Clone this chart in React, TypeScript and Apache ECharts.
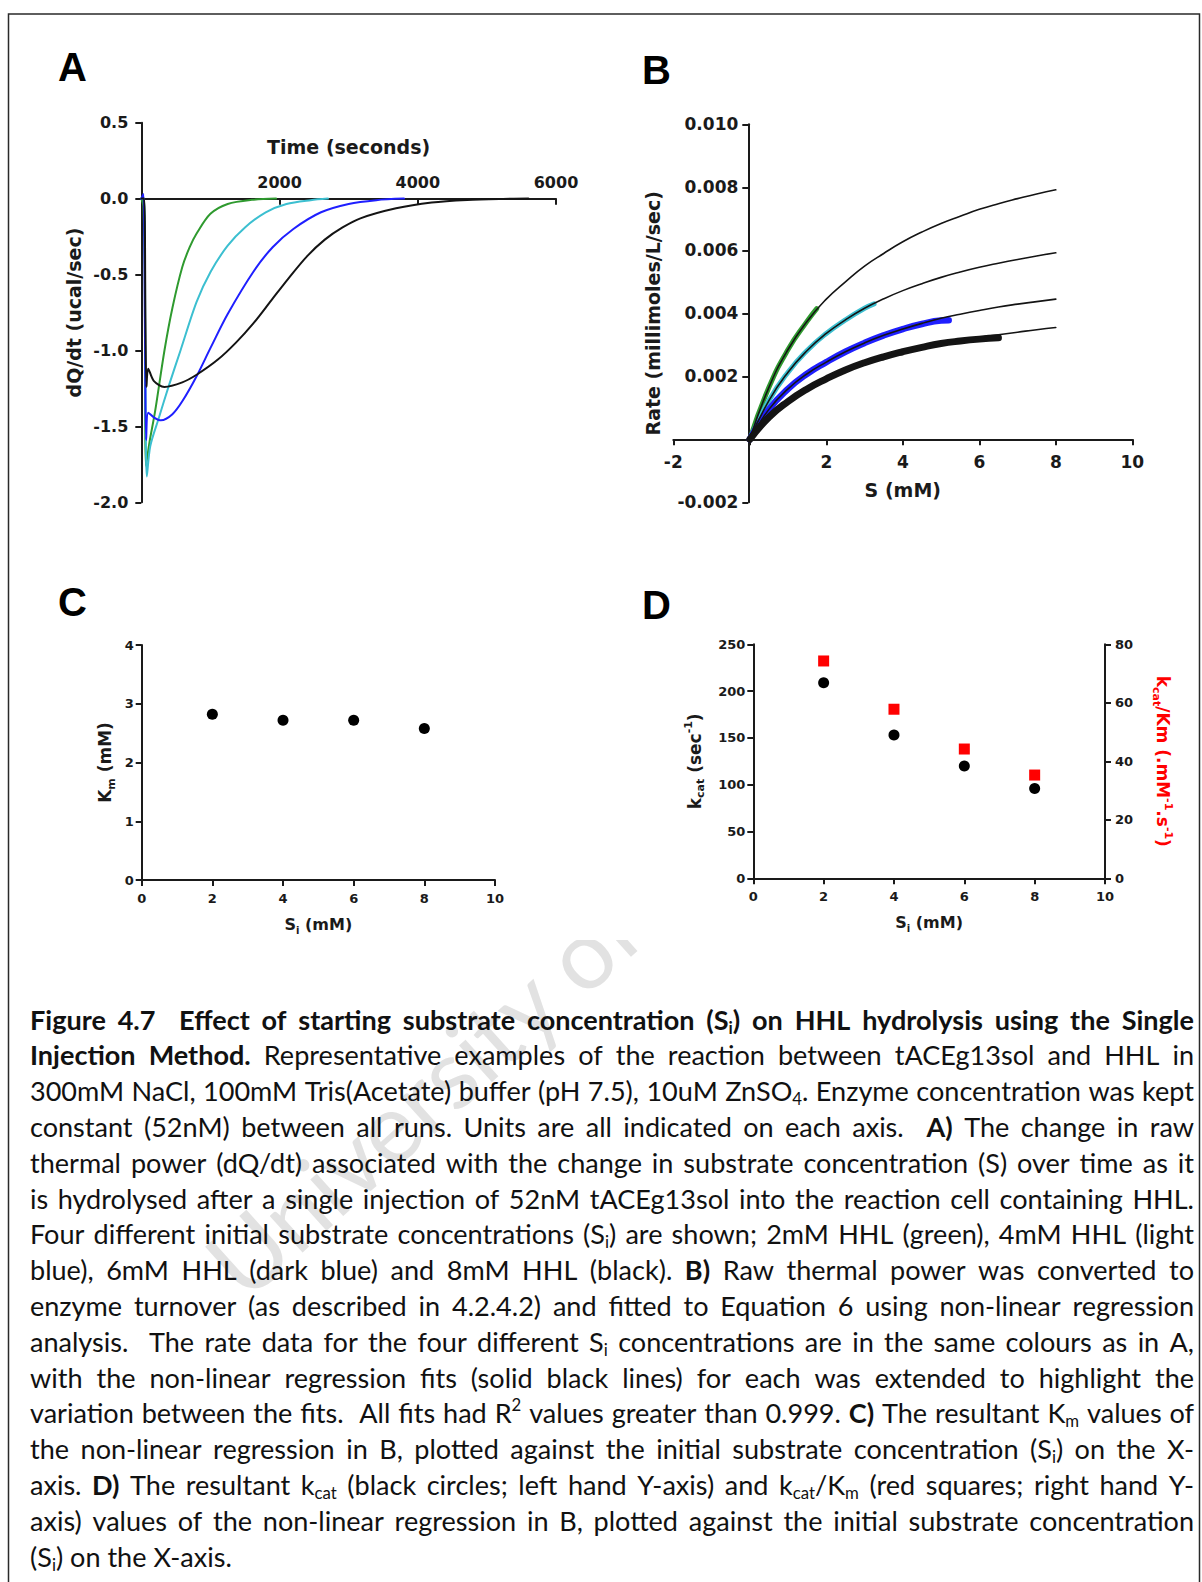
import React, { useEffect, useRef } from 'react';
import * as echarts from 'echarts';

const W = 1202;
const H = 1582;
const FF = 'DejaVu Sans';
const INK = '#1a1a1a';

// ---------- Panel A: thermal power vs time ----------
const aGreenT = [0, 30, 50, 67, 120, 200, 335, 450, 593, 700, 800, 1000, 1250, 1600, 1950];
const aGreenV = [0, -0.05, -0.5, -1.76, -1.6, -1.4, -1.0, -0.72, -0.45, -0.32, -0.23, -0.1, -0.035, -0.008, 0];
const aCyanT = [0, 40, 60, 80, 130, 250, 400, 567, 800, 1005, 1250, 1500, 1800, 2100, 2450, 2700];
const aCyanV = [0, 0, -1.2, -1.83, -1.63, -1.45, -1.23, -1.0, -0.68, -0.48, -0.31, -0.19, -0.09, -0.035, -0.01, 0];
const aBlueT = [0, 30, 55, 70, 100, 180, 284, 450, 600, 800, 1005, 1250, 1624, 1900, 2200, 2600, 3000, 3400, 3800];
const aBlueV = [0, 0.03, -1.0, -1.59, -1.41, -1.44, -1.46, -1.42, -1.33, -1.17, -0.98, -0.76, -0.48, -0.32, -0.2, -0.09, -0.035, -0.01, 0];
const aBlackT = [0, 40, 60, 75, 100, 180, 335, 593, 800, 1108, 1366, 1624, 1881, 2139, 2397, 2655, 2912, 3170, 3686, 4201, 4716, 5232, 5600];
const aBlackV = [0, 0, -0.8, -1.24, -1.12, -1.2, -1.24, -1.21, -1.16, -1.06, -0.95, -0.82, -0.67, -0.52, -0.38, -0.27, -0.19, -0.13, -0.064, -0.026, -0.009, -0.002, 0];

// ---------- Panel B: rate vs S ----------
const bFitS = [0, 0.5, 1, 1.5, 2, 2.5, 3, 3.5, 4, 4.5, 5, 5.5, 6, 6.5, 7, 7.5, 8];
const bFit1 = [0, 0.00165, 0.00285, 0.00375, 0.00445, 0.005, 0.0055, 0.0059, 0.00627, 0.00658, 0.00685, 0.00708, 0.0073, 0.00748, 0.00764, 0.00779, 0.00792];
const bFit2 = [0, 0.00123, 0.00213, 0.00282, 0.00336, 0.00379, 0.00416, 0.00446, 0.00472, 0.00494, 0.00514, 0.00531, 0.00546, 0.00559, 0.00571, 0.00582, 0.00592];
const bFit3 = [0, 0.00095, 0.0016, 0.00208, 0.00245, 0.00278, 0.00306, 0.0033, 0.0035, 0.00368, 0.00384, 0.00397, 0.00409, 0.0042, 0.00429, 0.00437, 0.00445];
const bFit4 = [0, 0.0007, 0.0012, 0.0016, 0.00192, 0.0022, 0.00243, 0.00262, 0.00278, 0.00292, 0.00304, 0.00315, 0.00324, 0.00332, 0.0034, 0.00348, 0.00355];
const bGreenS = [0, 0.5, 1, 1.5, 1.75];
const bGreenV = [0, 0.00165, 0.00285, 0.00375, 0.00415];
const bCyanS = [0, 0.5, 1, 1.5, 2, 2.5, 3, 3.25];
const bCyanV = [0, 0.00123, 0.00213, 0.00282, 0.00336, 0.00379, 0.00416, 0.0043];
const bBlueS = [0, 0.5, 1, 1.5, 2, 2.5, 3, 3.5, 4, 4.5, 5, 5.2];
const bBlueV = [0, 0.00095, 0.0016, 0.00208, 0.00245, 0.00278, 0.00306, 0.0033, 0.0035, 0.00366, 0.00377, 0.00378];
const bBlackS = [0, 0.5, 1, 1.5, 2, 2.5, 3, 3.5, 4, 4.5, 5, 5.5, 6, 6.5];
const bBlackV = [0, 0.0007, 0.0012, 0.0016, 0.00192, 0.0022, 0.00243, 0.00262, 0.00278, 0.00292, 0.00304, 0.00312, 0.00318, 0.00322];

// ---------- Panel C: Km vs Si ----------
const cSi = [2, 4, 6, 8];
const cKm = [2.82, 2.72, 2.72, 2.58];

// ---------- Panel D: kcat and kcat/Km vs Si ----------
const dSi = [2, 4, 6, 8];
const dKcat = [209, 153, 120, 96];
const dKcatKm = [74.3, 57.8, 44.2, 35.3];

// ---------- Caption ----------
const captionLines = [
  '**Figure 4.7  Effect of starting substrate concentration (S_{i}) on HHL hydrolysis using the Single**',
  '**Injection Method.** Representative examples of the reaction between tACEg13sol and HHL in',
  '300mM NaCl, 100mM Tris(Acetate) buffer (pH 7.5), 10uM ZnSO_{4}. Enzyme concentration was kept',
  'constant (52nM) between all runs. Units are all indicated on each axis.  **A)** The change in raw',
  'thermal power (dQ/dt) associated with the change in substrate concentration (S) over time as it',
  'is hydrolysed after a single injection of 52nM tACEg13sol into the reaction cell containing HHL.',
  'Four different initial substrate concentrations (S_{i}) are shown; 2mM HHL (green), 4mM HHL (light',
  'blue), 6mM HHL (dark blue) and 8mM HHL (black). **B)** Raw thermal power was converted to',
  'enzyme turnover (as described in 4.2.4.2) and fitted to Equation 6 using non-linear regression',
  'analysis.  The rate data for the four different S_{i} concentrations are in the same colours as in A,',
  'with the non-linear regression fits (solid black lines) for each was extended to highlight the',
  'variation between the fits.  All fits had R^{2} values greater than 0.999. **C)** The resultant K_{m} values of',
  'the non-linear regression in B, plotted against the initial substrate concentration (S_{i}) on the X-',
  'axis. **D)** The resultant k_{cat} (black circles; left hand Y-axis) and k_{cat}/K_{m} (red squares; right hand Y-',
  'axis) values of the non-linear regression in B, plotted against the initial substrate concentration',
  '(S_{i}) on the X-axis.',
];

const zip = (xs: number[], ys: number[]) => xs.map((x, i) => [x, ys[i]]);

type Seg = { t: string; b: boolean; k: 'n' | 'sub' | 'sup' };
type Word = { segs: Seg[]; sp: number };

function parseLine(s: string): Word[] {
  const words: Word[] = [];
  let bold = false;
  let kind: 'n' | 'sub' | 'sup' = 'n';
  let cur: Seg[] = [];
  let buf = '';
  let spaces = 0;
  const flush = () => {
    if (buf) {
      cur.push({ t: buf, b: bold, k: kind });
      buf = '';
    }
  };
  const endWord = () => {
    flush();
    if (cur.length) {
      words.push({ segs: cur, sp: spaces });
      cur = [];
      spaces = 0;
    }
  };
  for (let i = 0; i < s.length; i++) {
    const c = s[i];
    if (c === '*' && s[i + 1] === '*') { flush(); bold = !bold; i++; continue; }
    if ((c === '_' || c === '^') && s[i + 1] === '{') { flush(); kind = c === '_' ? 'sub' : 'sup'; i++; continue; }
    if (c === '}' && kind !== 'n') { flush(); kind = 'n'; continue; }
    if (c === ' ' && kind === 'n') { endWord(); spaces++; continue; }
    buf += c;
  }
  endWord();
  return words;
}

function buildCaption(): any[] {
  const CAP_LEFT = 30;
  const CAP_RIGHT = 1194;
  const CAP_Y0 = 1019;
  const CAP_DY = 35.8;
  const CF = 'Lato';
  const width = CAP_RIGHT - CAP_LEFT;
  const ctx = document.createElement('canvas').getContext('2d')!;
  const segFont = (sg: Seg, S: number) => {
    const sz = sg.k === 'n' ? S : S * 0.62;
    return `${sg.b ? 'bold ' : ''}${sz}px ${CF}`;
  };
  const mw = (txt: string, font: string) => { ctx.font = font; return ctx.measureText(txt).width; };
  const parsed = captionLines.map(parseLine);
  const wordW = (w: Word, S: number) => w.segs.reduce((a, sg) => a + mw(sg.t, segFont(sg, S)), 0);
  const S0 = 28;
  let maxNat = 0;
  parsed.forEach((words, li) => {
    if (li === parsed.length - 1) return;
    const sp = mw(' ', `${S0}px ${CF}`);
    let tot = 0;
    words.forEach((w, i) => { tot += wordW(w, S0) + (i ? w.sp * sp : 0); });
    maxNat = Math.max(maxNat, tot);
  });
  const S = Math.min(30, S0 * (width / maxNat) * 0.995);
  const els: any[] = [];
  parsed.forEach((words, li) => {
    const yc = CAP_Y0 + CAP_DY * li;
    const ws = words.map((w) => wordW(w, S));
    const sum = ws.reduce((a, b) => a + b, 0);
    const nsp = words.reduce((a, w, i) => a + (i ? w.sp : 0), 0);
    const last = li === parsed.length - 1;
    const spW = last ? mw(' ', `${S}px ${CF}`) : (width - sum) / nsp;
    let x = CAP_LEFT;
    words.forEach((w, i) => {
      if (i) x += w.sp * spW;
      w.segs.forEach((sg) => {
        const f = segFont(sg, S);
        const wd = mw(sg.t, f);
        const y = sg.k === 'sub' ? yc + S * 0.3 : sg.k === 'sup' ? yc - S * 0.3 : yc;
        els.push({
          type: 'text', x, y, z: 3, silent: true,
          style: {
            text: sg.t, fill: '#111', fontFamily: CF,
            fontSize: sg.k === 'n' ? S : S * 0.62,
            fontWeight: sg.b ? 'bold' : 'normal',
            textAlign: 'left', textVerticalAlign: 'middle', verticalAlign: 'middle',
          },
        });
        x += wd;
      });
    });
  });
  return els;
}

const titleRich = (size: number, color: string) => ({
  a: { fontFamily: FF, fontWeight: 'bold', fontSize: size, color, lineHeight: size + 6, verticalAlign: 'middle' },
  s: { fontFamily: FF, fontWeight: 'bold', fontSize: Math.round(size * 0.65), color, lineHeight: Math.round(size * 0.65), verticalAlign: 'bottom' },
  p: { fontFamily: FF, fontWeight: 'bold', fontSize: Math.round(size * 0.65), color, lineHeight: Math.round(size * 0.65), verticalAlign: 'top' },
});

function axis(o: any) {
  if (o.hidden) {
    return { type: 'value', gridIndex: o.grid, min: o.min, max: o.max, show: false, splitLine: { show: false } };
  }
  const res: any = {
    type: 'value',
    gridIndex: o.grid,
    min: o.min,
    max: o.max,
    interval: o.interval,
    position: o.position,
    z: 10,
    axisLine: { show: true, onZero: false, lineStyle: { color: INK, width: 2 } },
    axisTick: { show: true, inside: !!o.tickInside, length: 6, lineStyle: { color: INK, width: 2 } },
    axisLabel: {
      fontFamily: FF, fontWeight: 'bold', fontSize: o.labelSize, color: INK, margin: o.margin,
      formatter: o.formatter,
      showMinLabel: true, showMaxLabel: true,
    },
    splitLine: { show: false },
    name: o.name,
    nameLocation: 'middle',
    nameGap: o.nameGap,
    nameRotate: o.nameRotate,
    nameTextStyle: o.rich
      ? { rich: titleRich(o.nameSize, o.nameColor || INK) }
      : { fontFamily: FF, fontWeight: 'bold', fontSize: o.nameSize, color: o.nameColor || INK },
  };
  return res;
}

function buildOption(): any {
  const hideZero = (d: number) => (v: number) => (Math.abs(v) < 1e-9 ? '' : v.toFixed(d));
  const grids = [
    // 0: A plot area
    { left: 141.3, top: 122.7, width: 414.7, height: 379.6 },
    // 1: B plot area
    { left: 673.3, top: 124.3, width: 459, height: 378 },
    // 2: C
    { left: 141.7, top: 645, width: 353.3, height: 235 },
    // 3: D
    { left: 753.3, top: 644.3, width: 351.7, height: 234 },
    // 4: A time axis, sitting on y = 0
    { left: 141.3, top: 198.7, width: 414.7, height: 10 },
    // 5: B S axis, sitting on rate = 0
    { left: 673.3, top: 429.3, width: 459, height: 10 },
    // 6: B rate axis, sitting on S = 0
    { left: 748.3, top: 124.3, width: 10, height: 378 },
  ];
  const xAxes = [
    axis({ grid: 0, min: 0, max: 6000, hidden: true }),
    axis({ grid: 1, min: -2, max: 10, hidden: true }),
    axis({ grid: 2, min: 0, max: 10, interval: 2, position: 'bottom', labelSize: 13, margin: 12,
      formatter: (v: number) => String(v), name: '{a|S}{s|i}{a| (mM)}', rich: true, nameSize: 16, nameGap: 33 }),
    axis({ grid: 3, min: 0, max: 10, interval: 2, position: 'bottom', labelSize: 13, margin: 12,
      formatter: (v: number) => String(v), name: '{a|S}{s|i}{a| (mM)}', rich: true, nameSize: 16, nameGap: 33 }),
    axis({ grid: 4, min: 0, max: 6000, interval: 2000, position: 'top', tickInside: true, labelSize: 16, margin: 8,
      formatter: (v: number) => (v === 0 ? '' : String(v)), name: 'Time (seconds)', nameSize: 19, nameGap: 42 }),
    axis({ grid: 5, min: -2, max: 10, interval: 2, position: 'bottom', labelSize: 17, margin: 14,
      formatter: hideZero(0), name: 'S (mM)', nameSize: 19, nameGap: 41 }),
    axis({ grid: 6, min: 0, max: 1, hidden: true }),
  ];
  const yAxes = [
    axis({ grid: 0, min: -2, max: 0.5, interval: 0.5, position: 'left', labelSize: 16, margin: 13,
      formatter: (v: number) => v.toFixed(1), name: 'dQ/dt (ucal/sec)', nameSize: 19, nameGap: 58 }),
    axis({ grid: 1, min: -0.002, max: 0.01, hidden: true }),
    axis({ grid: 2, min: 0, max: 4, interval: 1, position: 'left', labelSize: 13, margin: 8,
      formatter: (v: number) => String(v), name: '{a|K}{s|m}{a| (mM)}', rich: true, nameSize: 17, nameGap: 25 }),
    axis({ grid: 3, min: 0, max: 250, interval: 50, position: 'left', labelSize: 13, margin: 8,
      formatter: (v: number) => String(v), name: '{a|k}{s|cat}{a| (sec}{p|-1}{a|)}', rich: true, nameSize: 17, nameGap: 47 }),
    axis({ grid: 3, min: 0, max: 80, interval: 20, position: 'right', labelSize: 13, margin: 10,
      formatter: (v: number) => String(v), name: '{a|k}{s|cat}{a|/Km (.mM}{p|-1}{a|.s}{p|-1}{a|)}', rich: true,
      nameSize: 17, nameGap: 46, nameRotate: -90, nameColor: '#ff0000' }),
    axis({ grid: 4, min: 0, max: 1, hidden: true }),
    axis({ grid: 5, min: 0, max: 1, hidden: true }),
    axis({ grid: 6, min: -0.002, max: 0.01, interval: 0.002, position: 'left', labelSize: 17, margin: 10,
      formatter: hideZero(3), name: 'Rate (millimoles/L/sec)', nameSize: 19, nameGap: 86 }),
  ];

  const line = (xi: number, yi: number, data: number[][], color: string, width: number, z = 10, smooth = 0.3) => ({
    type: 'line', xAxisIndex: xi, yAxisIndex: yi, data, showSymbol: false, symbol: 'none',
    smooth, z, silent: true,
    lineStyle: { color, width, cap: 'round', join: 'round' },
  });

  const GREEN = '#2f9a2f';
  const CYAN = '#3cbfd0';
  const BLUE = '#1f1fff';
  const BLACK = '#141414';

  const series: any[] = [
    line(0, 0, zip(aGreenT, aGreenV), GREEN, 2),
    line(0, 0, zip(aCyanT, aCyanV), CYAN, 2),
    line(0, 0, zip(aBlueT, aBlueV), BLUE, 2),
    line(0, 0, zip(aBlackT, aBlackV), BLACK, 2),
    line(1, 1, zip(bGreenS, bGreenV), GREEN, 5, 10, 0.5),
    line(1, 1, zip(bCyanS, bCyanV), CYAN, 5, 10, 0.5),
    line(1, 1, zip(bBlueS, bBlueV), BLUE, 6.5, 10, 0.5),
    line(1, 1, zip(bBlackS, bBlackV), BLACK, 7, 10, 0.5),
    line(1, 1, zip(bFitS, bFit1), BLACK, 1.6, 11, 0.5),
    line(1, 1, zip(bFitS, bFit2), BLACK, 1.6, 11, 0.5),
    line(1, 1, zip(bFitS, bFit3), BLACK, 1.6, 11, 0.5),
    line(1, 1, zip(bFitS, bFit4), BLACK, 1.6, 11, 0.5),
    {
      type: 'scatter', xAxisIndex: 2, yAxisIndex: 2, data: zip(cSi, cKm), symbol: 'circle', symbolSize: 11, z: 11,
      itemStyle: { color: '#000', opacity: 1 },
    },
    {
      type: 'scatter', xAxisIndex: 3, yAxisIndex: 3, data: zip(dSi, dKcat), symbol: 'circle', symbolSize: 11, z: 11,
      itemStyle: { color: '#000', opacity: 1 },
    },
    {
      type: 'scatter', xAxisIndex: 3, yAxisIndex: 4, data: zip(dSi, dKcatKm), symbol: 'rect', symbolSize: 11, z: 11,
      itemStyle: { color: '#ff0000', opacity: 1 },
    },
  ];

  const letter = (t: string, x: number, y: number) => ({
    type: 'text', x, y, z: 3, silent: true,
    style: { text: t, fill: '#000', fontFamily: 'Liberation Sans', fontWeight: 'bold', fontSize: 40,
      textAlign: 'left', textVerticalAlign: 'middle', verticalAlign: 'middle' },
  });

  const graphic: any[] = [
    {
      type: 'text', x: 253, y: 1312, z: 0, rotation: (42 * Math.PI) / 180, silent: true,
      style: { text: 'University of Cape Town', fill: '#e2e2e2', fontFamily: 'Lato', fontSize: 97,
        textAlign: 'left', textVerticalAlign: 'bottom', verticalAlign: 'bottom' },
    },
    { type: 'rect', z: 1, silent: true, shape: { x: 10, y: 15, width: 1188, height: 925 }, style: { fill: '#fff' } },
    { type: 'rect', z: 2, silent: true, shape: { x: 8.5, y: 14, width: 1191, height: 1600 },
      style: { fill: 'none', stroke: '#2a2a2a', lineWidth: 1.5 } },
    letter('A', 58, 67),
    letter('B', 642, 70),
    letter('C', 58, 602),
    letter('D', 642, 605),
    ...buildCaption(),
  ];

  return {
    animation: false,
    backgroundColor: '#ffffff',
    grid: grids,
    xAxis: xAxes,
    yAxis: yAxes,
    series,
    graphic: { elements: graphic },
  };
}

export default function App() {
  const ref = useRef<HTMLDivElement>(null);
  useEffect(() => {
    document.body.style.margin = '0';
    const chart = echarts.init(ref.current!, null, { renderer: 'svg', width: W, height: H });
    chart.setOption(buildOption());
    return () => chart.dispose();
  }, []);
  return <div ref={ref} style={{ width: W, height: H }} />;
}
